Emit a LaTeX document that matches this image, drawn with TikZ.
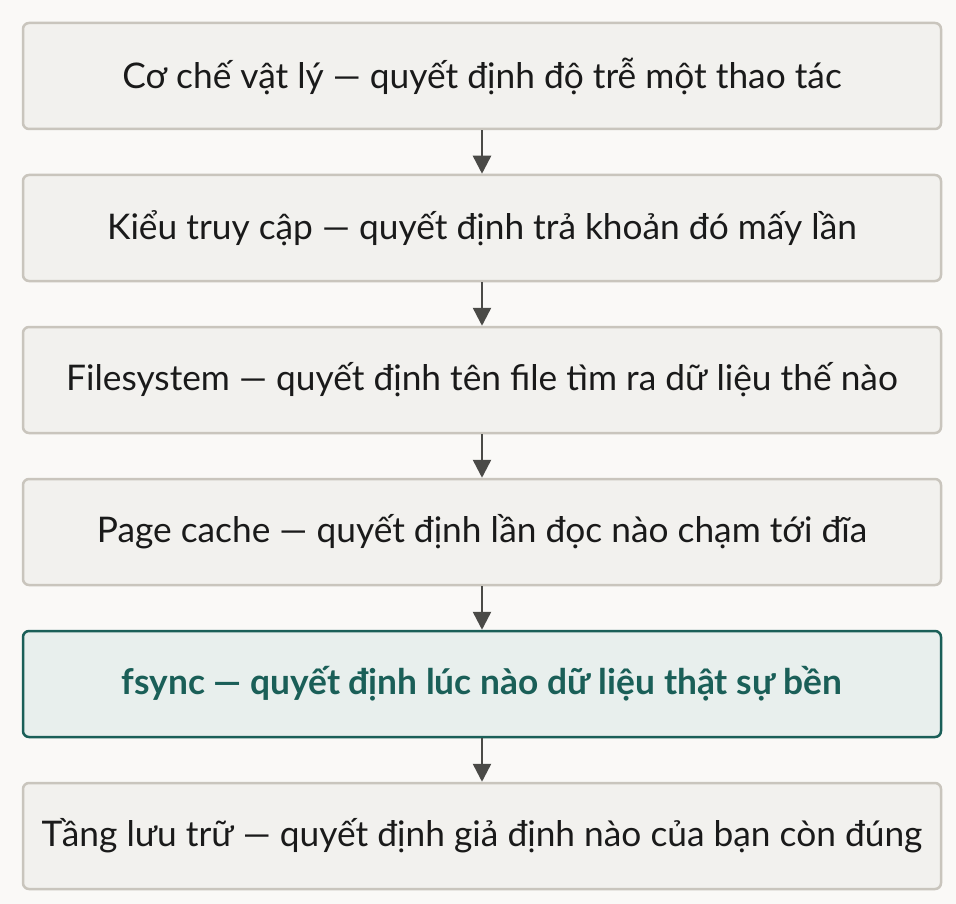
\documentclass[tikz,border=0pt]{standalone}
\usepackage{fontspec}
\setmainfont{Lato}
\usetikzlibrary{positioning,arrows.meta}
\definecolor{background}{HTML}{FAF9F7}
\definecolor{boxFill}{HTML}{F2F1EE}
\definecolor{boxLine}{HTML}{C9C5BD}
\definecolor{keyFill}{HTML}{E8EFED}
\definecolor{keyLine}{HTML}{1A5F58}
\definecolor{penColor}{HTML}{1A1A1A}
\definecolor{arrowColor}{HTML}{4A4A47}
\tikzset{
  layer/.style={draw=boxLine,fill=boxFill,line width=2.5pt,rounded corners=6pt,
    minimum width=918pt,minimum height=106pt,text=penColor,font=\fontsize{35.3}{40}\selectfont},
  keylayer/.style={layer,draw=keyLine,fill=keyFill,text=keyLine,
    font=\fontsize{35.3}{40}\selectfont\bfseries},
  flow/.style={draw=arrowColor,line width=2.5pt,-{Triangle[width=18pt,length=18pt]}}
}

\begin{document}
\begin{tikzpicture}[x=1pt,y=1pt,node distance=43.5pt]
      \fill [background] (0,0) rectangle (956,-904);
      \node [layer] (phys) at (482,-76) {Cơ chế vật lý — quyết định độ trễ một thao tác};
      \node [layer,below=of phys] (access) {Kiểu truy cập — quyết định trả khoản đó mấy lần};
      \node [layer,below=of access] (fs) {Filesystem — quyết định tên file tìm ra dữ liệu thế nào};
      \node [layer,below=of fs] (cache) {Page cache — quyết định lần đọc nào chạm tới đĩa};
      \node [keylayer,below=of cache] (fsync) {fsync — quyết định lúc nào dữ liệu thật sự bền};
      \node [layer,below=of fsync] (storage) {Tầng lưu trữ — quyết định giả định nào của bạn còn đúng};
      \draw [flow] (phys) -- (access);
      \draw [flow] (access) -- (fs);
      \draw [flow] (fs) -- (cache);
      \draw [flow] (cache) -- (fsync);
      \draw [flow] (fsync) -- (storage);
    \end{tikzpicture}
\end{document}
